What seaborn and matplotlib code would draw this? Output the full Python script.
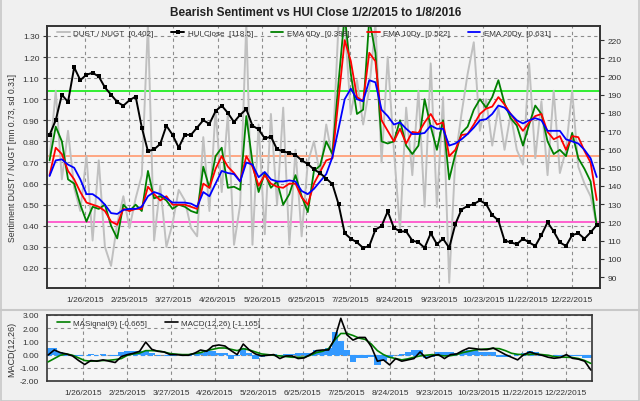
import numpy as np
import pandas as pd
import seaborn as sns
import matplotlib.pyplot as plt
from matplotlib.lines import Line2D
from matplotlib.patches import Rectangle

sns.set_style("white")
plt.rcParams['font.family'] = ['Liberation Sans', 'DejaVu Sans']

# ---- data (90 evenly spaced samples, 1/2/2015 .. 1/8/2016)
start_date, end_date, n_samples = '2015-01-02', '2016-01-08', 90

dust_nugt = [0.72, 1.04, 0.62, 0.85, 0.58, 0.47, 0.73, 0.33, 0.71, 0.30,
             0.21, 0.41, 0.54, 0.39, 0.53, 0.64, 1.36, 0.33, 0.59, 0.30,
             0.41, 0.57, 0.52, 0.39, 0.35, 0.82, 0.47, 0.95, 0.56, 0.93,
             0.31, 0.50, 1.36, 0.31, 0.88, 0.36, 0.93, 0.50, 0.96, 0.31,
             0.76, 0.35, 0.70, 0.80, 0.64, 0.88, 0.72, 1.36, 1.36, 0.93,
             1.09, 0.88, 1.05, 1.36, 0.70, 1.20, 0.76, 0.38, 0.96, 0.64,
             1.04, 0.49, 1.17, 0.49, 1.01, 0.13, 0.72, 0.93, 1.12, 1.27,
             0.85, 1.00, 0.78, 0.96, 0.76, 0.93, 0.76, 0.69, 1.17, 0.72,
             0.99, 0.64, 1.04, 0.65, 0.76, 1.04, 0.68, 0.60, 0.54, 0.402]

hui_close = [168, 176, 190, 186, 205, 198, 201, 202, 200, 194,
             190, 186, 184, 187, 189, 172, 159, 160, 163, 173,
             168, 161, 168, 168, 172, 176, 174, 181, 184, 180,
             175, 179, 182, 173, 171, 166, 167, 160, 159, 158,
             157, 154, 152, 149, 147, 144, 141, 130, 114, 111,
             109, 106, 107, 116, 118, 126, 117, 115, 115, 110,
             109, 106, 114, 108, 111, 106, 119, 127, 129, 130,
             132, 130, 124, 121, 110, 109, 108, 111, 109, 107,
             113, 120, 115, 109, 107, 113, 114, 111, 114.5, 118.5]

ema_6 = [0.71, 0.87, 0.80, 0.62, 0.60, 0.50, 0.42, 0.49, 0.48, 0.50,
         0.40, 0.34, 0.50, 0.47, 0.50, 0.47, 0.66, 0.53, 0.54, 0.52,
         0.48, 0.50, 0.49, 0.47, 0.46, 0.68, 0.58, 0.73, 0.77, 0.58,
         0.585, 0.57, 0.92, 0.70, 0.56, 0.65, 0.58, 0.61, 0.50, 0.55,
         0.64, 0.54, 0.465, 0.66, 0.685, 0.80, 0.74, 1.08, 1.40, 1.12,
         0.93, 0.95, 1.38, 1.22, 0.80, 0.79, 0.80, 0.90, 0.78, 0.74,
         0.78, 1.00, 0.87, 0.76, 0.90, 0.62, 0.74, 0.84, 0.87, 0.95,
         1.00, 0.96, 1.01, 1.09, 0.98, 0.91, 0.875, 0.78, 0.88, 0.97,
         0.93, 0.80, 0.74, 0.76, 0.73, 0.84, 0.72, 0.67, 0.61, 0.398]

ema_10 = [0.64, 0.77, 0.74, 0.66, 0.62, 0.56, 0.51, 0.50, 0.49, 0.47,
          0.42, 0.405, 0.48, 0.47, 0.48, 0.48, 0.585, 0.55, 0.52, 0.54,
          0.50, 0.50, 0.50, 0.49, 0.48, 0.60, 0.58, 0.67, 0.73, 0.68,
          0.65, 0.61, 0.73, 0.68, 0.59, 0.64, 0.60, 0.585, 0.58, 0.60,
          0.60, 0.535, 0.50, 0.60, 0.655, 0.71, 0.72, 1.00, 1.28, 1.18,
          1.01, 0.99, 1.22, 1.18, 0.90, 0.85, 0.80, 0.86, 0.79, 0.845,
          0.84, 0.89, 0.93, 0.88, 0.89, 0.73, 0.76, 0.83, 0.835, 0.88,
          0.93, 0.955, 0.965, 1.01, 0.975, 0.93, 0.89, 0.85, 0.89, 0.92,
          0.93, 0.845, 0.81, 0.825, 0.76, 0.825, 0.82, 0.755, 0.70, 0.522]

ema_20 = [0.636, 0.71, 0.715, 0.69, 0.675, 0.62, 0.55, 0.55, 0.53, 0.50,
          0.46, 0.456, 0.475, 0.48, 0.48, 0.49, 0.54, 0.56, 0.55, 0.53,
          0.51, 0.51, 0.51, 0.505, 0.49, 0.56, 0.54, 0.60, 0.66, 0.65,
          0.645, 0.61, 0.70, 0.69, 0.63, 0.655, 0.62, 0.61, 0.61, 0.615,
          0.61, 0.565, 0.55, 0.575, 0.61, 0.645, 0.725, 0.86, 1.00, 1.05,
          1.00, 0.99, 1.09, 1.08, 0.95, 0.92, 0.88, 0.89, 0.86, 0.835,
          0.835, 0.84, 0.875, 0.86, 0.86, 0.78, 0.79, 0.81, 0.835, 0.865,
          0.90, 0.905, 0.93, 0.97, 0.96, 0.93, 0.90, 0.885, 0.90, 0.91,
          0.90, 0.85, 0.85, 0.85, 0.81, 0.80, 0.79, 0.76, 0.72, 0.631]

macd = [-0.03, 0.35, 0.15, 0.05, -0.10, -0.45, -0.75, -0.45, -0.50, -0.40,
        -0.50, -0.60, -0.15, 0.00, 0.10, 0.25, 0.95, 0.40, 0.25, 0.20,
        0.00, 0.00, -0.05, -0.05, 0.10, 0.35, 0.25, 0.65, 0.73, 0.65,
        0.30, 0.00, 0.80, 0.35, 0.05, -0.10, -0.05, 0.00, -0.30, -0.10,
        -0.10, -0.30, -0.25, 0.00, 0.30, 0.35, 0.35, 1.20, 2.75, 1.50,
        1.10, 1.30, 1.30, 0.60, -0.50, -0.40, -0.78, -0.30, -0.50, -0.40,
        -0.30, 0.20, -0.28, -0.10, 0.00, -0.30, 0.00, 0.05, 0.30, 0.50,
        0.45, 0.38, 0.38, 0.50, 0.25, 0.00, -0.20, -0.40, 0.00, 0.20,
        0.05, -0.05, -0.20, -0.28, -0.22, 0.00, -0.28, -0.35, -0.50, -1.165]

ma_signal = [-0.55, -0.30, -0.05, 0.05, -0.05, -0.25, -0.45, -0.50, -0.47, -0.45,
             -0.43, -0.38, -0.30, -0.05, 0.05, 0.12, 0.30, 0.30, 0.28, 0.20,
             0.08, 0.03, 0.00, 0.00, 0.08, 0.15, 0.30, 0.40, 0.50, 0.50,
             0.40, 0.30, 0.45, 0.35, 0.20, 0.05, 0.00, -0.05, -0.10, -0.15,
             -0.20, -0.20, -0.20, -0.05, 0.15, 0.25, 0.45, 1.10, 1.60, 1.60,
             1.45, 1.25, 1.15, 0.80, 0.30, 0.00, -0.20, -0.30, -0.40, -0.32,
             -0.20, -0.10, -0.05, 0.00, -0.05, -0.10, -0.08, 0.00, 0.15, 0.25,
             0.35, 0.40, 0.43, 0.47, 0.45, 0.30, 0.10, 0.02, 0.00, 0.02,
             0.05, 0.00, -0.05, -0.15, -0.20, -0.20, -0.22, -0.30, -0.45, -0.665]

macd_hist = [0.50, 0.50, 0.20, 0.05, -0.05, -0.10, -0.05, 0.05, -0.05, 0.05,
             -0.05, -0.10, 0.20, 0.30, 0.25, 0.25, 0.30, 0.10, 0.00, -0.05,
             -0.10, -0.05, -0.05, -0.05, 0.05, 0.10, 0.35, 0.30, 0.10, 0.10,
             -0.30, -0.10, 0.50, 0.10, -0.30, -0.20, 0.00, 0.05, -0.10, 0.05,
             0.05, 0.10, 0.10, 0.10, 0.35, 0.30, 0.50, 1.74, 1.00, 0.35,
             -0.53, -0.28, -0.28, -0.15, -0.78, -0.50, -0.28, 0.00, 0.05, 0.20,
             0.38, 0.38, -0.28, -0.20, 0.20, 0.20, 0.20, 0.15, 0.30, 0.38,
             0.38, 0.20, 0.20, 0.20, -0.15, -0.15, -0.05, 0.05, 0.10, 0.25,
             0.20, -0.05, -0.10, -0.05, -0.10, -0.10, -0.10, -0.10, -0.25, -0.25]

sent_mean, sent_sd = 0.73, 0.31
date_ticks = ['1/26/2015', '2/25/2015', '3/27/2015', '4/26/2015', '5/26/2015', '6/25/2015',
              '7/25/2015', '8/24/2015', '9/23/2015', '10/23/2015', '11/22/2015', '12/22/2015']
left_ticks = [0.20, 0.30, 0.40, 0.50, 0.60, 0.70, 0.80, 0.90, 1.00, 1.10, 1.20, 1.30]
right_ticks = [90, 100, 110, 120, 130, 140, 150, 160, 170, 180, 190, 200, 210, 220]
macd_ticks = [-2.0, -1.0, 0.0, 1.0, 2.0, 3.0]

dates = pd.date_range(start_date, end_date, periods=n_samples)
df = pd.DataFrame({'date': dates, 'ratio': dust_nugt, 'hui': hui_close,
                   'ema6': ema_6, 'ema10': ema_10, 'ema20': ema_20,
                   'macd': macd, 'signal': ma_signal, 'hist': macd_hist})
tick_dates = pd.to_datetime(date_ticks, format='%m/%d/%Y')

W, H = 640, 402
fig = plt.figure(figsize=(W / 100, H / 100), dpi=100, facecolor='#f0f0f0')
ax = fig.add_axes([47 / W, 1 - 289 / H, 553 / W, 262 / H], facecolor='#f5f5f5')
ax2 = ax.twinx()
axm = fig.add_axes([47 / W, 1 - 382 / H, 545 / W, 66 / H], facecolor='#f5f5f5')

grid_kw = dict(color='#8c8c8c', lw=0.8, dashes=(3, 3))
tick_col = '#333333'
fs_tick, fs_leg = 6, 5.8

# ---- main panel
sns.lineplot(data=df, x='date', y='ratio', ax=ax, color='#c0c0c0', lw=1.4,
             label='DUST / NUGT  [0.402]', legend=False)
for val, col in [(sent_mean + sent_sd, '#22ee22'), (sent_mean, '#ffa07a'),
                 (sent_mean - sent_sd, '#ff55cc')]:
    ax.axhline(val, color=col, lw=1.3, zorder=1.5)
sns.lineplot(data=df, x='date', y='ema6', ax=ax, color='#008000', lw=1.3,
             label='EMA 6Dy  [0.398]', legend=False)
sns.lineplot(data=df, x='date', y='ema10', ax=ax, color='#ff0000', lw=1.3,
             label='EMA 10Dy  [0.522]', legend=False)
sns.lineplot(data=df, x='date', y='ema20', ax=ax, color='#0000ff', lw=1.3,
             label='EMA 20Dy  [0.631]', legend=False)
sns.lineplot(data=df, x='date', y='hui', ax=ax2, color='black', lw=1.4,
             marker='s', markersize=2.6, markeredgewidth=0,
             label='HUI Close  [118.5]', legend=False)

ax.set_xlim(pd.Timestamp('2014-12-31 06:00'), pd.Timestamp('2016-01-10 05:00'))
ax.set_ylim(0.105, 1.347)
ax2.set_ylim(83.97, 227.7)
ax.set_yticks(left_ticks)
ax.set_yticklabels([f'{v:.2f}' for v in left_ticks])
ax2.set_yticks(right_ticks)
ax2.set_yticklabels([str(v) for v in right_ticks])
ax.set_xticks(tick_dates)
ax.set_xticklabels(date_ticks)
ax.set_xticks(pd.date_range('2015-01-06', '2016-01-10', freq='10D'), minor=True)
ax.grid(True, which='major', **grid_kw)
ax.set_xlabel('')
ax.set_ylabel('Sentiment DUST / NUGT [mn 0.73, sd 0.31]', fontsize=6.2, color=tick_col, labelpad=4)
ax2.set_ylabel('')
for a in (ax, ax2):
    a.tick_params(labelsize=fs_tick, colors=tick_col, length=3, width=0.8, direction='out', pad=2.5)
    a.tick_params(which='minor', length=2, width=0.8, color=tick_col)
    for s in a.spines.values():
        s.set_color('#333333')
        s.set_linewidth(1.2)

h1, l1 = ax.get_legend_handles_labels()
h2, l2 = ax2.get_legend_handles_labels()
handles = [h1[0], h2[0]] + h1[1:]
labels = [l1[0], l2[0]] + l1[1:]
leg = ax2.legend(handles, labels, loc='upper left', bbox_to_anchor=(0.01, 1.005), ncol=5,
                 fontsize=fs_leg, frameon=False, handlelength=1.6, columnspacing=2.2,
                 handletextpad=0.4, borderaxespad=0.2)
for t in leg.get_texts():
    t.set_color(tick_col)

# ---- MACD panel
axm.bar(df['date'], df['hist'], width=4.3, color='#3399ff', lw=0, zorder=2)
axm.axhline(0, color='#3399ff', lw=0.8, dashes=(4, 3), zorder=1.9)
sns.lineplot(data=df, x='date', y='signal', ax=axm, color='#008000', lw=1.2,
             label='MASignal(9) [-0.665]', legend=False, zorder=3)
sns.lineplot(data=df, x='date', y='macd', ax=axm, color='black', lw=1.2,
             label='MACD(12,26) [-1.165]', legend=False, zorder=4)
axm.set_xlim(pd.Timestamp('2015-01-01 05:00'), pd.Timestamp('2016-01-08 20:00'))
axm.set_ylim(-2.0, 3.0)
axm.set_yticks(macd_ticks)
axm.set_yticklabels([f'{v:.2f}' for v in macd_ticks])
axm.set_xticks(tick_dates)
axm.set_xticklabels(date_ticks)
axm.set_xticks(pd.date_range('2015-01-06', '2016-01-08', freq='10D'), minor=True)
axm.grid(True, which='major', **grid_kw)
axm.set_xlabel('')
axm.set_ylabel('MACD(12,26)', fontsize=6.5, color=tick_col, labelpad=3)
axm.tick_params(labelsize=fs_tick, colors=tick_col, length=3, width=0.8, direction='out', pad=2.5)
axm.tick_params(which='minor', length=2, width=0.8, color=tick_col)
for s in axm.spines.values():
    s.set_color('#333333')
    s.set_linewidth(1.2)
legm = axm.legend(loc='upper left', bbox_to_anchor=(0.005, 1.04), ncol=2, fontsize=fs_leg,
                  frameon=False, handlelength=1.6, columnspacing=2.2, handletextpad=0.4)
for t in legm.get_texts():
    t.set_color(tick_col)

# ---- frame and title
fig.text(316 / W, 1 - 13 / H, 'Bearish Sentiment vs HUI Close 1/2/2015 to 1/8/2016',
         ha='center', va='center', fontsize=8.5, fontweight='bold', color='#222222')
fig.add_artist(Line2D([0, 1], [1 - 311 / H] * 2, color='#c8c8c8', lw=1.5))
fig.add_artist(Rectangle((0.001, 0.001), 0.998, 0.998, fill=False, ec='#c8c8c8', lw=1.2))

fig.savefig('out.png', dpi=100, facecolor=fig.get_facecolor())
